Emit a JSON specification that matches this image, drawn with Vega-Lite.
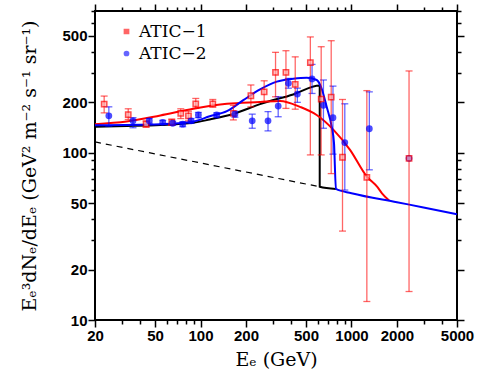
{
  "$schema": "https://vega.github.io/schema/vega-lite/v6.json",
  "width": 362,
  "height": 309,
  "autosize": "none",
  "padding": {"left": 95, "top": 11, "right": 22, "bottom": 56},
  "background": "white",
  "config": {
    "view": {"stroke": "black", "strokeWidth": 2},
    "axis": {
      "domain": false,
      "grid": false,
      "labelFont": "Liberation Sans",
      "labelFontWeight": "bold",
      "labelFontSize": 15,
      "labelColor": "black",
      "titleFont": "DejaVu Serif",
      "titleFontWeight": "normal",
      "titleFontSize": 19,
      "titleColor": "black"
    },
    "legend": {"labelFont": "DejaVu Serif", "labelFontSize": 17, "labelColor": "black"}
  },
  "resolve": {"axis": {"x": "independent", "y": "independent"}},
  "datasets": {
    "pts": [
      {"series": "ATIC-1", "E": 23.0, "flux": 195, "lo": 173, "hi": 218},
      {"series": "ATIC-1", "E": 33.2, "flux": 169, "lo": 158, "hi": 183},
      {"series": "ATIC-1", "E": 43.6, "flux": 148, "lo": 142, "hi": 155},
      {"series": "ATIC-1", "E": 64.5, "flux": 152, "lo": 146, "hi": 159},
      {"series": "ATIC-1", "E": 74, "flux": 172, "lo": 160, "hi": 183},
      {"series": "ATIC-1", "E": 83.2, "flux": 166, "lo": 155, "hi": 177},
      {"series": "ATIC-1", "E": 93, "flux": 196, "lo": 184, "hi": 211},
      {"series": "ATIC-1", "E": 120.6, "flux": 196, "lo": 187, "hi": 208},
      {"series": "ATIC-1", "E": 165, "flux": 172, "lo": 157, "hi": 192},
      {"series": "ATIC-1", "E": 215.6, "flux": 219, "lo": 188, "hi": 254},
      {"series": "ATIC-1", "E": 264, "flux": 231, "lo": 202, "hi": 269},
      {"series": "ATIC-1", "E": 314, "flux": 302, "lo": 216, "hi": 398},
      {"series": "ATIC-1", "E": 368, "flux": 302, "lo": 184, "hi": 407},
      {"series": "ATIC-1", "E": 424, "flux": 256, "lo": 182, "hi": 374},
      {"series": "ATIC-1", "E": 534, "flux": 345, "lo": 97, "hi": 492},
      {"series": "ATIC-1", "E": 630, "flux": 209, "lo": 97, "hi": 430},
      {"series": "ATIC-1", "E": 734, "flux": 215, "lo": 75, "hi": 467},
      {"series": "ATIC-1", "E": 872, "flux": 93.9, "lo": 34, "hi": 208},
      {"series": "ATIC-1", "E": 1264, "flux": 71.3, "lo": 12.9, "hi": 235},
      {"series": "ATIC-2", "E": 24.7, "flux": 166, "lo": 144, "hi": 188},
      {"series": "ATIC-2", "E": 35.7, "flux": 155, "lo": 141, "hi": 162},
      {"series": "ATIC-2", "E": 45.8, "flux": 155, "lo": 150, "hi": 160},
      {"series": "ATIC-2", "E": 56.2, "flux": 152, "lo": 148, "hi": 156},
      {"series": "ATIC-2", "E": 65.4, "flux": 150, "lo": 146, "hi": 154},
      {"series": "ATIC-2", "E": 76.2, "flux": 148, "lo": 143, "hi": 153},
      {"series": "ATIC-2", "E": 86.6, "flux": 155, "lo": 150, "hi": 160},
      {"series": "ATIC-2", "E": 96.8, "flux": 168, "lo": 162, "hi": 174},
      {"series": "ATIC-2", "E": 128, "flux": 168, "lo": 163, "hi": 173},
      {"series": "ATIC-2", "E": 169, "flux": 170, "lo": 163, "hi": 177},
      {"series": "ATIC-2", "E": 220, "flux": 155, "lo": 140, "hi": 170},
      {"series": "ATIC-2", "E": 280, "flux": 155, "lo": 135, "hi": 176},
      {"series": "ATIC-2", "E": 327, "flux": 190, "lo": 164, "hi": 216},
      {"series": "ATIC-2", "E": 382, "flux": 260, "lo": 243, "hi": 278},
      {"series": "ATIC-2", "E": 438, "flux": 224, "lo": 200, "hi": 243},
      {"series": "ATIC-2", "E": 548, "flux": 276, "lo": 226, "hi": 337},
      {"series": "ATIC-2", "E": 652, "flux": 192, "lo": 140, "hi": 272},
      {"series": "ATIC-2", "E": 754, "flux": 162, "lo": 98, "hi": 250},
      {"series": "ATIC-2", "E": 903, "flux": 115, "lo": 59.8, "hi": 196},
      {"series": "ATIC-2", "E": 1313, "flux": 139, "lo": 79, "hi": 231},
      {"series": "ATIC-2", "E": 2406, "flux": 92.6, "lo": 92.6, "hi": 92.6},
      {"series": "ATIC-1", "E": 2406, "flux": 92.6, "lo": 14.8, "hi": 308}
    ],
    "curves": [
      {"curve": "bg", "i": 0, "E": 20, "flux": 116},
      {"curve": "bg", "i": 1, "E": 616, "flux": 62.6},
      {"curve": "black", "i": 0, "E": 20, "flux": 143},
      {"curve": "black", "i": 1, "E": 32.4, "flux": 144.4},
      {"curve": "black", "i": 2, "E": 54.2, "flux": 146.4},
      {"curve": "black", "i": 3, "E": 89.6, "flux": 151},
      {"curve": "black", "i": 4, "E": 115, "flux": 158},
      {"curve": "black", "i": 5, "E": 165, "flux": 170.5},
      {"curve": "black", "i": 6, "E": 248, "flux": 195},
      {"curve": "black", "i": 7, "E": 411, "flux": 223},
      {"curve": "black", "i": 8, "E": 616, "flux": 252},
      {"curve": "black", "i": 9, "E": 616, "flux": 62.6},
      {"curve": "black", "i": 10, "E": 789, "flux": 60.7},
      {"curve": "red", "i": 0, "E": 20, "flux": 148},
      {"curve": "red", "i": 1, "E": 32.4, "flux": 153.6},
      {"curve": "red", "i": 2, "E": 54.2, "flux": 167},
      {"curve": "red", "i": 3, "E": 89.6, "flux": 183},
      {"curve": "red", "i": 4, "E": 149.6, "flux": 196},
      {"curve": "red", "i": 5, "E": 248, "flux": 201},
      {"curve": "red", "i": 6, "E": 337, "flux": 204},
      {"curve": "red", "i": 7, "E": 456, "flux": 188},
      {"curve": "red", "i": 8, "E": 588, "flux": 168},
      {"curve": "red", "i": 9, "E": 760, "flux": 137},
      {"curve": "red", "i": 10, "E": 978, "flux": 104},
      {"curve": "red", "i": 11, "E": 1264, "flux": 72},
      {"curve": "red", "i": 12, "E": 1478, "flux": 62.6},
      {"curve": "red", "i": 13, "E": 1592, "flux": 57.2},
      {"curve": "red", "i": 14, "E": 1775, "flux": 51.8},
      {"curve": "blue", "i": 0, "E": 20, "flux": 146},
      {"curve": "blue", "i": 1, "E": 54, "flux": 148},
      {"curve": "blue", "i": 2, "E": 89.6, "flux": 153.6},
      {"curve": "blue", "i": 3, "E": 115, "flux": 165},
      {"curve": "blue", "i": 4, "E": 149.6, "flux": 177},
      {"curve": "blue", "i": 5, "E": 192, "flux": 206},
      {"curve": "blue", "i": 6, "E": 248, "flux": 239},
      {"curve": "blue", "i": 7, "E": 320, "flux": 266},
      {"curve": "blue", "i": 8, "E": 411, "flux": 277},
      {"curve": "blue", "i": 9, "E": 505, "flux": 281},
      {"curve": "blue", "i": 10, "E": 588, "flux": 272},
      {"curve": "blue", "i": 11, "E": 634, "flux": 242},
      {"curve": "blue", "i": 12, "E": 685, "flux": 188},
      {"curve": "blue", "i": 13, "E": 739, "flux": 143},
      {"curve": "blue", "i": 14, "E": 766, "flux": 114},
      {"curve": "blue", "i": 15, "E": 789, "flux": 60.7},
      {"curve": "blue", "i": 16, "E": 1000, "flux": 57.3},
      {"curve": "blue", "i": 17, "E": 2000, "flux": 50.6},
      {"curve": "blue", "i": 18, "E": 3000, "flux": 47.1},
      {"curve": "blue", "i": 19, "E": 5000, "flux": 42.9}
    ]
  },
  "layer": [
    {
      "data": {"name": "curves"},
      "transform": [{"filter": "datum.curve == 'bg'"}],
      "mark": {"type": "line", "color": "black", "strokeWidth": 1.2, "strokeDash": [6, 5]},
      "encoding": {
        "x": {"field": "E", "type": "quantitative", "scale": {"type": "log", "domain": [20, 5000], "nice": false},
          "axis": {"orient": "bottom", "title": "Eₑ (GeV)", "titlePadding": 7, "values": [20, 50, 100, 200, 500, 1000, 2000, 5000], "format": "d", "ticks": true, "tickSize": 7, "tickColor": "black", "tickWidth": 1.5, "labelPadding": 1, "labelFlush": false, "labelOverlap": false}},
        "y": {"field": "flux", "type": "quantitative", "scale": {"type": "log", "domain": [10, 703], "nice": false},
          "axis": {"orient": "left", "title": "Eₑ³dNₑ/dEₑ (GeV² m⁻² s⁻¹ sr⁻¹)", "titlePadding": 22, "values": [10, 20, 50, 100, 200, 500], "format": "d", "ticks": true, "tickSize": 7, "tickColor": "black", "tickWidth": 1.5, "labelPadding": 1, "labelOverlap": false}},
        "order": {"field": "i", "type": "quantitative"}
      }
    },
    {
      "data": {"name": "curves"},
      "transform": [{"filter": "datum.curve == 'black'"}],
      "mark": {"type": "line", "color": "black", "strokeWidth": 2, "interpolate": "monotone"},
      "encoding": {
        "x": {"field": "E", "type": "quantitative", "scale": {"type": "log", "domain": [20, 5000], "nice": false},
          "axis": {"orient": "bottom", "title": null, "values": [30, 40, 60, 70, 80, 90, 300, 400, 600, 700, 800, 900, 3000, 4000], "labels": false, "ticks": true, "tickSize": 4, "tickColor": "black", "tickWidth": 1.5}},
        "y": {"field": "flux", "type": "quantitative", "scale": {"type": "log", "domain": [10, 703], "nice": false},
          "axis": {"orient": "left", "title": null, "values": [30, 40, 60, 70, 80, 90, 300, 400, 600, 700], "labels": false, "ticks": true, "tickSize": 4, "tickColor": "black", "tickWidth": 1.5}},
        "order": {"field": "i", "type": "quantitative"}
      }
    },
    {
      "data": {"name": "curves"},
      "transform": [{"filter": "datum.curve == 'red'"}],
      "mark": {"type": "line", "color": "#ff0000", "strokeWidth": 2, "interpolate": "monotone"},
      "encoding": {
        "x": {"field": "E", "type": "quantitative", "scale": {"type": "log", "domain": [20, 5000], "nice": false}, "axis": null},
        "y": {"field": "flux", "type": "quantitative", "scale": {"type": "log", "domain": [10, 703], "nice": false}, "axis": null},
        "order": {"field": "i", "type": "quantitative"}
      }
    },
    {
      "data": {"name": "curves"},
      "transform": [{"filter": "datum.curve == 'blue'"}],
      "mark": {"type": "line", "color": "#0000ff", "strokeWidth": 2, "interpolate": "monotone"},
      "encoding": {
        "x": {"field": "E", "type": "quantitative", "scale": {"type": "log", "domain": [20, 5000], "nice": false},
          "axis": {"orient": "top", "title": null, "values": [20, 50, 100, 200, 500, 1000, 2000, 5000], "labels": false, "ticks": true, "tickSize": 7, "tickColor": "black", "tickWidth": 1.5}},
        "y": {"field": "flux", "type": "quantitative", "scale": {"type": "log", "domain": [10, 703], "nice": false},
          "axis": {"orient": "right", "title": null, "values": [10, 20, 50, 100, 200, 500], "labels": false, "ticks": true, "tickSize": 7, "tickColor": "black", "tickWidth": 1.5}},
        "order": {"field": "i", "type": "quantitative"}
      }
    },
    {
      "data": {"name": "pts"},
      "transform": [{"filter": "datum.hi > datum.lo"}],
      "mark": {"type": "errorbar", "ticks": {"size": 7}, "thickness": 1.3, "opacity": 0.6},
      "encoding": {
        "x": {"field": "E", "type": "quantitative", "scale": {"type": "log", "domain": [20, 5000], "nice": false}, "axis": null},
        "y": {"field": "lo", "type": "quantitative", "scale": {"type": "log", "domain": [10, 703], "nice": false}, "axis": null},
        "y2": {"field": "hi"},
        "color": {"field": "series", "type": "nominal", "scale": {"domain": ["ATIC-1", "ATIC-2"], "range": ["#ff0000", "#0000ff"]}}
      }
    },
    {
      "data": {"name": "pts"},
      "mark": {"type": "point", "filled": false, "strokeWidth": 1.5},
      "encoding": {
        "x": {"field": "E", "type": "quantitative", "scale": {"type": "log", "domain": [20, 5000], "nice": false},
          "axis": {"orient": "top", "title": null, "values": [30, 40, 60, 70, 80, 90, 300, 400, 600, 700, 800, 900, 3000, 4000], "labels": false, "ticks": true, "tickSize": 4, "tickColor": "black", "tickWidth": 1.5}},
        "y": {"field": "flux", "type": "quantitative", "scale": {"type": "log", "domain": [10, 703], "nice": false},
          "axis": {"orient": "right", "title": null, "values": [30, 40, 60, 70, 80, 90, 300, 400, 600, 700], "labels": false, "ticks": true, "tickSize": 4, "tickColor": "black", "tickWidth": 1.5}},
        "color": {"field": "series", "type": "nominal", "scale": {"domain": ["ATIC-1", "ATIC-2"], "range": ["#ff0000", "#0000ff"]},
          "legend": {"title": null, "orient": "none", "legendX": 23, "legendY": 12, "padding": 0, "labelFont": "DejaVu Serif", "labelFontSize": 17, "labelColor": "black", "symbolSize": 18, "rowPadding": 4, "labelOffset": 4, "symbolStrokeWidth": 1.5, "labelExpr": "replace(datum.label, '-', '−')"}},
        "shape": {"field": "series", "type": "nominal", "scale": {"domain": ["ATIC-1", "ATIC-2"], "range": ["square", "circle"]}},
        "fill": {"field": "series", "type": "nominal", "scale": {"domain": ["ATIC-1", "ATIC-2"], "range": ["#ffaaaa", "#0000ff"]}},
        "size": {"value": 28}
      }
    }
  ]
}
